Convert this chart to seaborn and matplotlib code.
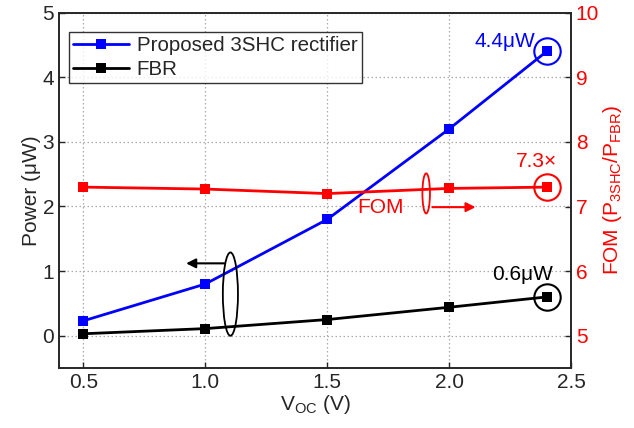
import matplotlib
matplotlib.use("Agg")
import matplotlib.pyplot as plt
import seaborn as sns
import pandas as pd
from matplotlib.patches import Ellipse

voc = [0.5, 1.0, 1.5, 2.0, 2.4]
p_3shc = [0.23, 0.80, 1.80, 3.20, 4.40]
p_fbr = [0.03, 0.11, 0.25, 0.44, 0.60]
fom = [7.30, 7.27, 7.20, 7.28, 7.30]
series_names = ["Proposed 3SHC rectifier", "FBR"]
left_ticks = [0, 1, 2, 3, 4, 5]
right_ticks = [5, 6, 7, 8, 9, 10]
x_ticks = [0.5, 1.0, 1.5, 2.0, 2.5]

sns.set_style("ticks")
plt.rcParams['font.family'] = ['Liberation Sans', 'DejaVu Sans']
plt.rcParams['mathtext.fontset'] = 'custom'
plt.rcParams['mathtext.rm'] = 'Liberation Sans'
plt.rcParams['mathtext.it'] = 'Liberation Sans'
plt.rcParams['mathtext.default'] = 'regular'

FS = 15

df = pd.DataFrame({
    "voc": voc * 2,
    "power": p_3shc + p_fbr,
    "series": [series_names[0]] * len(voc) + [series_names[1]] * len(voc),
})
df_fom = pd.DataFrame({"voc": voc, "fom": fom})

fig = plt.figure(figsize=(6.34, 4.28), dpi=100)
ax = fig.add_axes([59/634, 1-368/428, (571-59)/634, (368-12.7)/428])

ax.grid(True, color='#aaaaaa', linestyle=(0, (1.2, 2)), linewidth=0.9)
ax.set_axisbelow(True)

sns.lineplot(data=df, x="voc", y="power", hue="series", palette=["#0000ff", "#000000"],
             marker='s', markersize=7, markeredgewidth=0, linewidth=2, ax=ax, legend=True, zorder=3)

ax.set_xlim(0.4, 2.5)
ax.set_ylim(-0.5, 5)
ax.set_xticks(x_ticks)
ax.set_xticklabels([f"{v:.1f}" for v in x_ticks])
ax.set_yticks(left_ticks)
ax.tick_params(direction='in', length=4, labelsize=FS, width=1)
ax.set_xlabel("V$_{OC}$ (V)", fontsize=FS, labelpad=1)
ax.set_ylabel("Power (μW)", fontsize=FS, labelpad=1)
for s in ax.spines.values():
    s.set_linewidth(1.2)

leg = ax.legend(loc='upper left', bbox_to_anchor=(0.0195, 0.946), borderaxespad=0,
                fontsize=14.8, frameon=True, fancybox=False, edgecolor='black',
                handlelength=2.7, handletextpad=0.4, labelspacing=0.25, borderpad=0.2)
leg.get_frame().set_linewidth(1.0)

ax2 = ax.twinx()
sns.lineplot(data=df_fom, x="voc", y="fom", color="#ff0000", marker='s', markersize=7,
             markeredgewidth=0, linewidth=2, ax=ax2, zorder=3)
ax2.set_ylim(4.5, 10)
ax2.set_yticks(right_ticks)
ax2.tick_params(direction='in', length=4, labelsize=FS, labelcolor='#ff0000', width=1)
ax2.set_ylabel("FOM (P$_{3SHC}$/P$_{FBR}$)", fontsize=FS, color='#ff0000', labelpad=1)
ax2.set_xlabel("")
for s in ax2.spines.values():
    s.set_linewidth(1.2)

# circles around end points
ax2.plot([voc[-1]], [p_3shc[-1] + 5], marker='o', markersize=19, markerfacecolor='none',
         markeredgecolor='#0000ff', markeredgewidth=1.5, linestyle='none')
ax2.plot([voc[-1]], [fom[-1]], marker='o', markersize=19, markerfacecolor='none',
         markeredgecolor='#ff0000', markeredgewidth=1.5, linestyle='none')
ax2.plot([voc[-1]], [p_fbr[-1] + 5], marker='o', markersize=19, markerfacecolor='none',
         markeredgecolor='#000000', markeredgewidth=1.5, linestyle='none')

ax2.text(2.355, 9.56, "4.4μW", color='#0000ff', fontsize=FS, ha='right', va='center')
ax2.text(2.36, 7.7, "7.3×", color='#ff0000', fontsize=FS, ha='center', va='center')
ax2.text(2.3, 5.95, "0.6μW", color='#000000', fontsize=FS, ha='center', va='center')
ax2.text(1.72, 6.99, "FOM", color='#ff0000', fontsize=FS, ha='center', va='center')

# ellipses and arrows
ax2.add_patch(Ellipse((1.103, 5.644), 0.062, 1.29, fill=False, edgecolor='black', linewidth=1.3))
ax2.annotate("", xy=(0.91, 6.12), xytext=(1.09, 6.12),
             arrowprops=dict(arrowstyle='-|>', color='black', lw=1.5, mutation_scale=14))
ax2.add_patch(Ellipse((1.906, 7.203), 0.031, 0.62, fill=False, edgecolor='#ff0000', linewidth=1.3))
ax2.annotate("", xy=(2.12, 6.99), xytext=(1.92, 6.99),
             arrowprops=dict(arrowstyle='-|>', color='#ff0000', lw=1.5, mutation_scale=14))

fig.savefig("out.png", dpi=100)
